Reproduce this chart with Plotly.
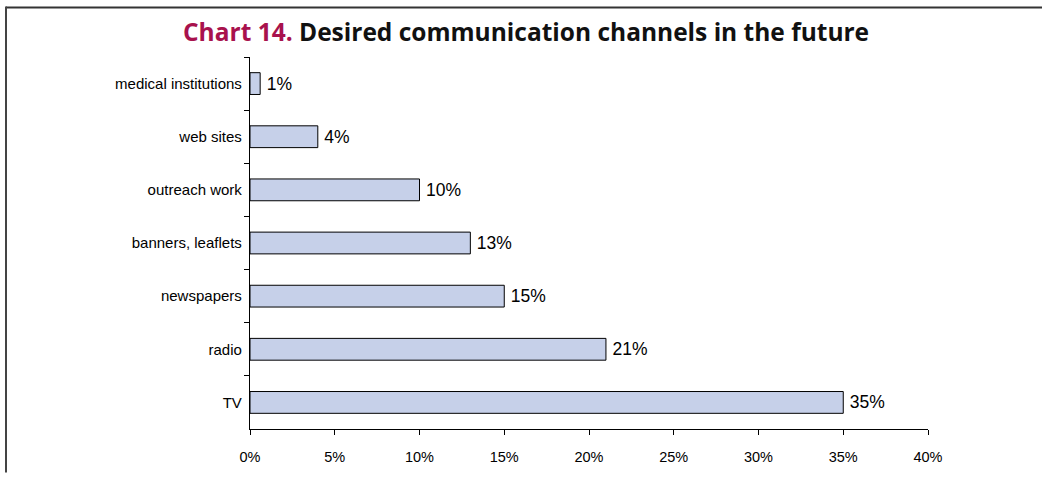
import plotly.graph_objects as go

categories = ["medical institutions", "web sites", "outreach work", "banners, leaflets",
              "newspapers", "radio", "TV"]
values = [0.6, 4, 10, 13, 15, 21, 35]
value_labels = ["1%", "4%", "10%", "13%", "15%", "21%", "35%"]
x_ticks = [0, 5, 10, 15, 20, 25, 30, 35, 40]

W, H = 1042, 477
L, R, T, B = 250, 114, 57, 44
pw, ph = W - L - R, H - T - B

def px2x(px):
    return (px - L) / pw

def px2y(py):
    return (H - B - py) / ph

fig = go.Figure(go.Bar(
    x=values, y=categories, orientation="h",
    marker=dict(color="#C6D0E9", line=dict(color="#000000", width=1)),
    text=["\u2009" + s for s in value_labels], textposition="outside",
    textfont=dict(family="Arial, Liberation Sans", size=17.5, color="#000"),
    cliponaxis=False,
))

fig.update_layout(
    width=W, height=H,
    margin=dict(l=L, r=R, t=T, b=B),
    paper_bgcolor="white", plot_bgcolor="white",
    bargap=0.59,
    showlegend=False,
    font=dict(family="Arial, Liberation Sans", color="#000"),
)
fig.update_xaxes(
    range=[0, 40], tickvals=x_ticks, ticktext=[f"{t}%" for t in x_ticks],
    showgrid=False, zeroline=False, showline=True, linecolor="#000", linewidth=1,
    ticks="outside", ticklen=5, tickcolor="#000", tickfont=dict(size=14.5),
    ticklabelstandoff=10,
)
fig.update_yaxes(
    autorange="reversed", showgrid=False, showline=True, linecolor="#000", linewidth=1,
    ticks="outside", ticklen=5, tickcolor="#000", tickson="boundaries",
    tickfont=dict(size=15), ticksuffix=" ",
)

fig.add_annotation(
    text="<b><span style='color:#A8124D'>Chart 14.</span> Desired communication channels in the future</b>",
    xref="paper", yref="paper", x=px2x(526), y=px2y(31),
    xanchor="center", yanchor="middle", showarrow=False,
    font=dict(family="Open Sans", size=24.5, color="#111"),
)

fig.add_shape(type="line", xref="paper", yref="paper",
              x0=px2x(6), x1=px2x(1042), y0=px2y(7), y1=px2y(7),
              line=dict(color="#333", width=2))
fig.add_shape(type="line", xref="paper", yref="paper",
              x0=px2x(6), x1=px2x(6), y0=px2y(6), y1=px2y(477),
              line=dict(color="#444", width=2))

fig.write_html(
    "out.html", config={"displayModeBar": False},
    post_script=("document.body.style.margin='0';document.body.style.padding='0';"
                 "document.documentElement.style.overflow='hidden';window.scrollTo(0,0);"),
)
